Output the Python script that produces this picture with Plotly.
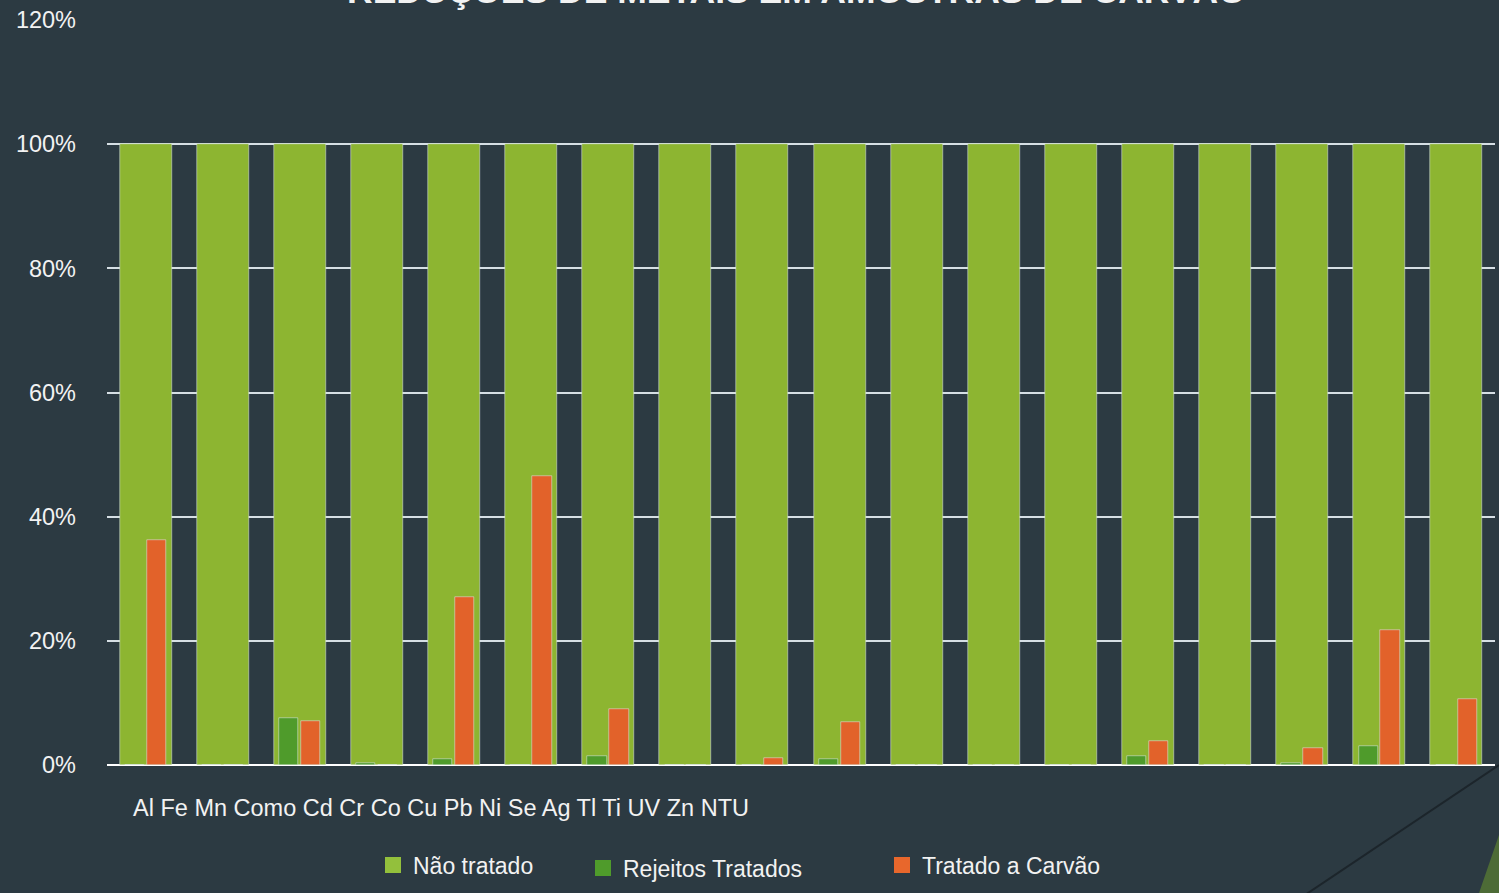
import plotly.graph_objects as go

# ---- data ----
element_labels = ["Al", "Fe", "Mn", "Como", "Cd", "Cr", "Co", "Cu", "Pb", "Ni",
                  "Se", "Ag", "Tl", "Ti", "UV", "Zn", "NTU"]
groups = list(range(1, 19))
nao_tratado = [100] * 18
rejeitos_tratados = [0, 0, 7.6, 0.3, 1.0, 0, 1.5, 0, 0, 0.9, 0, 0, 0, 1.5, 0, 0.3, 3.1, 0]
tratado_carvao = [36.3, 0, 7.1, 0, 27.1, 46.6, 9.0, 0, 1.1, 7.0, 0, 0, 0, 3.9, 0, 2.7, 21.8, 10.6]
y_ticks = [0, 20, 40, 60, 80, 100, 120]
series_names = ["Não tratado", "Rejeitos Tratados", "Tratado a Carvão"]
title_text = "REDUÇÕES DE METAIS EM AMOSTRAS DE CARVÃO"

# ---- style ----
W, H = 1499, 893
ML, MR, MT, MB = 107, 4, 20, 128
BG = "#2c3a42"
TXT = "#f2f2f2"
FONT = "Liberation Sans, Arial, sans-serif"
C_NAO = "#8db531"
C_REJ = "#4f9b2b"
C_CAR = "#e2622a"
LEG_NAO = "#93c03c"
LEG_REJ = "#4f9b2b"
LEG_CAR = "#e8672c"

PW = W - ML - MR
PH = H - MT - MB


def px_x(x):
    return (x - ML) / PW


def px_y(y):
    return (H - MB - y) / PH


fig = go.Figure()
fig.add_trace(go.Bar(x=groups, y=nao_tratado, name=series_names[0], marker_color=C_NAO,
                     width=0.675, showlegend=False, hoverinfo="y"))
fig.add_trace(go.Bar(x=groups, y=rejeitos_tratados, name=series_names[1], marker_color=C_REJ,
                     width=0.25, offset=-0.27, showlegend=False, hoverinfo="y"))
fig.add_trace(go.Bar(x=groups, y=tratado_carvao, name=series_names[2], marker_color=C_CAR,
                     width=0.25, offset=0.015, showlegend=False, hoverinfo="y"))

# legend entries (square swatches, legend only)
for name, col, leg in zip(series_names, [LEG_NAO, LEG_REJ, LEG_CAR], ["legend", "legend2", "legend3"]):
    fig.add_trace(go.Scatter(x=[None], y=[None], mode="markers", name=name, legend=leg,
                             marker=dict(symbol="square", size=16, color=col), showlegend=True))

legend_common = dict(bgcolor="rgba(0,0,0,0)", font=dict(family=FONT, size=23, color=TXT),
                     xref="container", yref="container", xanchor="left", yanchor="middle",
                     orientation="h")

fig.update_layout(
    width=W, height=H,
    paper_bgcolor=BG, plot_bgcolor=BG,
    margin=dict(l=ML, r=MR, t=MT, b=MB, pad=0),
    barmode="overlay",
    bargap=0,
    font=dict(family=FONT, size=23, color=TXT),
    xaxis=dict(range=[0.5, 18.5], showticklabels=False, showgrid=False, zeroline=False,
               showline=False, ticks="", fixedrange=True),
    yaxis=dict(range=[0, 120], tickvals=y_ticks, ticktext=[f"{v}%" for v in y_ticks],
               showgrid=True, gridcolor="#d6dfe4", gridwidth=2,
               zeroline=True, zerolinecolor="#ffffff", zerolinewidth=2,
               showline=False, ticks="", ticklabelstandoff=30,
               tickfont=dict(family=FONT, size=23.5, color=TXT), fixedrange=True),
    showlegend=True,
    legend=dict(**legend_common, x=373 / W, y=1 - 865 / H),
    legend2=dict(**legend_common, x=583 / W, y=1 - 868 / H),
    legend3=dict(**legend_common, x=882 / W, y=1 - 865 / H),
    annotations=[
        dict(text="<b>" + title_text + "</b>", xref="paper", yref="paper",
             x=px_x(796), y=px_y(5), xanchor="center", yanchor="bottom", showarrow=False,
             font=dict(family=FONT, size=35.5, color=TXT), yshift=-8),
        dict(text=" ".join(element_labels), xref="paper", yref="paper",
             x=px_x(131), y=px_y(808), xanchor="left", yanchor="middle", showarrow=False,
             font=dict(family=FONT, size=23.5, color=TXT)),
    ],
    shapes=[
        dict(type="line", xref="paper", yref="paper", x0=px_x(1499), y0=px_y(765),
             x1=px_x(1305), y1=px_y(895), line=dict(color="#1c252b", width=2), layer="below"),
        dict(type="path", xref="paper", yref="paper",
             path=f"M {px_x(1499)},{px_y(835)} L {px_x(1479)},{px_y(893)} L {px_x(1499)},{px_y(893)} Z",
             fillcolor="#4d6b36", line=dict(width=0), layer="below"),
    ],
)

fig.write_html("out.html", config={"displayModeBar": False},
               post_script="document.body.style.margin='0';document.body.style.overflow='hidden';")
